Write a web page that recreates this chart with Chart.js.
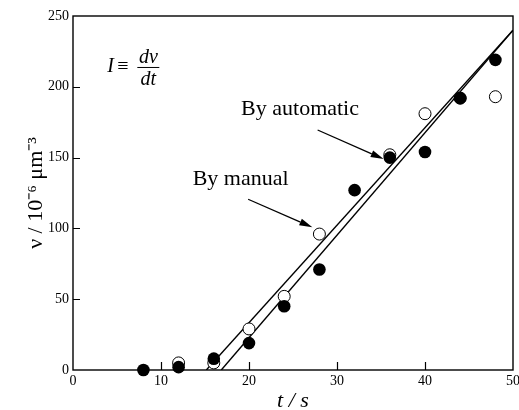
<!DOCTYPE html>
<html><head><meta charset="utf-8">
<script src="https://cdn.jsdelivr.net/npm/chart.js@4/dist/chart.umd.min.js"></script>
<style>html,body{margin:0;padding:0;background:#fff}#wrap{width:519px;height:410px}</style>
</head><body><div id="wrap"><canvas id="c" width="519" height="410"></canvas></div>
<script>
// ---- data ----
const timesAutomatic  = [8, 12, 16, 20, 24, 28, 32, 36, 40, 44, 48];
const volumeAutomatic = [0, 2, 8, 19, 45, 71, 127, 150, 154, 192, 219];
const timesManual     = [12, 16, 20, 24, 28, 36, 40, 44, 48];
const volumeManual    = [5, 5, 29, 52, 96, 152, 181, 192, 193];
const fitManualT = [15.15, 50];
const fitManualV = [0, 240];
const fitAutoT   = [16.85, 50];
const fitAutoV   = [0, 240];
const xTickValues = [0, 10, 20, 30, 40, 50];
const yTickValues = [0, 50, 100, 150, 200, 250];
const xTitle = 't / s';
const yTitle = 'ν / 10⁻⁶ μm⁻³';
const labelAutomatic = 'By automatic';
const labelManual = 'By manual';

const pts = (xs, ys) => xs.map((x, i) => ({x: x, y: ys[i]}));
const SERIF = '"Liberation Serif", "Times New Roman", serif';

// annotation placement (data coordinates)
const notes = [
  {text: labelAutomatic, t: 19.1, v: 180.1},
  {text: labelManual, t: 13.6, v: 130.6}
];
const arrows = [
  {t0: 27.8, v0: 169.5, t1: 35.3, v1: 149.0},
  {t0: 19.9, v0: 120.6, t1: 27.2, v1: 100.8}
];

const framePlugin = {
  id: 'frame',
  beforeDatasetsDraw(chart) {
    const {ctx, chartArea: a, scales: {x, y}} = chart;
    ctx.save();
    ctx.strokeStyle = '#000';
    ctx.lineWidth = 1.4;
    ctx.strokeRect(a.left, a.top, a.right - a.left, a.bottom - a.top);
    ctx.lineWidth = 1.2;
    ctx.beginPath();
    xTickValues.slice(1, -1).forEach(v => {
      const px = Math.round(x.getPixelForValue(v)) + 0.5;
      ctx.moveTo(px, a.bottom); ctx.lineTo(px, a.bottom - 8);
    });
    yTickValues.slice(1, -1).forEach(v => {
      const py = Math.round(y.getPixelForValue(v)) + 0.5;
      ctx.moveTo(a.left, py); ctx.lineTo(a.left + 7, py);
    });
    ctx.stroke();
    ctx.restore();
  },
  afterDatasetsDraw(chart) {
    const {ctx, scales: {x, y}} = chart;
    ctx.save();
    ctx.fillStyle = '#000';
    ctx.strokeStyle = '#000';
    // labels
    ctx.font = '22px ' + SERIF;
    ctx.textBaseline = 'alphabetic';
    ctx.textAlign = 'left';
    notes.forEach(n => ctx.fillText(n.text, x.getPixelForValue(n.t), y.getPixelForValue(n.v)));
    // arrows
    arrows.forEach(r => {
      const x0 = x.getPixelForValue(r.t0), y0 = y.getPixelForValue(r.v0);
      const x1 = x.getPixelForValue(r.t1), y1 = y.getPixelForValue(r.v1);
      const ang = Math.atan2(y1 - y0, x1 - x0);
      const L = 13, W = 3.5;
      const bx = x1 - L * Math.cos(ang), by = y1 - L * Math.sin(ang);
      ctx.lineWidth = 1.3;
      ctx.beginPath(); ctx.moveTo(x0, y0); ctx.lineTo(bx, by); ctx.stroke();
      ctx.beginPath();
      ctx.moveTo(x1, y1);
      ctx.lineTo(bx + W * Math.sin(ang), by - W * Math.cos(ang));
      ctx.lineTo(bx - W * Math.sin(ang), by + W * Math.cos(ang));
      ctx.closePath(); ctx.fill();
    });
    // formula I = dv/dt
    const fx = x.getPixelForValue(3.9);
    const fy = y.getPixelForValue(214);
    ctx.font = 'italic 20px ' + SERIF;
    ctx.textBaseline = 'middle';
    ctx.fillText('I', fx, fy);
    ctx.font = '20px ' + SERIF;
    ctx.fillText('≡', fx + 10, fy);
    const cx = fx + 41;
    ctx.lineWidth = 1;
    ctx.beginPath(); ctx.moveTo(cx - 11, fy + 0.5); ctx.lineTo(cx + 11, fy + 0.5); ctx.stroke();
    ctx.font = 'italic 20px ' + SERIF;
    ctx.textAlign = 'center';
    ctx.textBaseline = 'alphabetic';
    ctx.fillText('dv', cx, fy - 4);
    ctx.fillText('dt', cx, fy + 18);
    ctx.restore();
  }
};

const tickFont = {family: SERIF, size: 14};
new Chart(document.getElementById('c'), {
  type: 'scatter',
  data: {
    datasets: [
      {label: 'automatic', data: pts(timesAutomatic, volumeAutomatic), pointRadius: 6.3,
       backgroundColor: '#000', borderColor: '#000', borderWidth: 0, order: 1, clip: false},
      {label: 'manual', data: pts(timesManual, volumeManual), pointRadius: 6,
       backgroundColor: '#fff', borderColor: '#000', borderWidth: 1, order: 2, clip: false},
      {label: 'fit manual', type: 'line', data: pts(fitManualT, fitManualV), pointRadius: 0,
       borderColor: '#000', borderWidth: 1.4, showLine: true, fill: false, order: 3},
      {label: 'fit automatic', type: 'line', data: pts(fitAutoT, fitAutoV), pointRadius: 0,
       borderColor: '#000', borderWidth: 1.4, showLine: true, fill: false, order: 4}
    ]
  },
  options: {
    responsive: false,
    animation: false,
    devicePixelRatio: 1,
    layout: {padding: {top: 16, right: 6, left: 0, bottom: 0}, autoPadding: false},
    plugins: {legend: {display: false}, tooltip: {enabled: false}},
    scales: {
      x: {
        type: 'linear', min: 0, max: 50,
        afterBuildTicks: s => { s.ticks = xTickValues.map(v => ({value: v})); },
        afterFit: s => { s.height = 40; s.paddingLeft = 0; s.paddingRight = 0; },
        ticks: {font: tickFont, color: '#000', padding: 3, maxRotation: 0, autoSkip: false},
        grid: {drawOnChartArea: false, drawTicks: false},
        border: {display: false},
        title: {display: true, text: xTitle, color: '#000',
                font: {family: SERIF, size: 22, style: 'italic', lineHeight: 1},
                padding: {top: 0, bottom: -2}}
      },
      y: {
        type: 'linear', min: 0, max: 250,
        afterBuildTicks: s => { s.ticks = yTickValues.map(v => ({value: v})); },
        afterFit: s => { s.width = 73; s.paddingTop = 0; s.paddingBottom = 0; },
        ticks: {font: tickFont, color: '#000', padding: 4, autoSkip: false},
        grid: {drawOnChartArea: false, drawTicks: false},
        border: {display: false},
        title: {display: true, text: yTitle, color: '#000',
                font: {family: SERIF, size: 22, lineHeight: 1},
                padding: {top: 25, bottom: 0}}
      }
    }
  },
  plugins: [framePlugin]
});
</script>
</body></html>
